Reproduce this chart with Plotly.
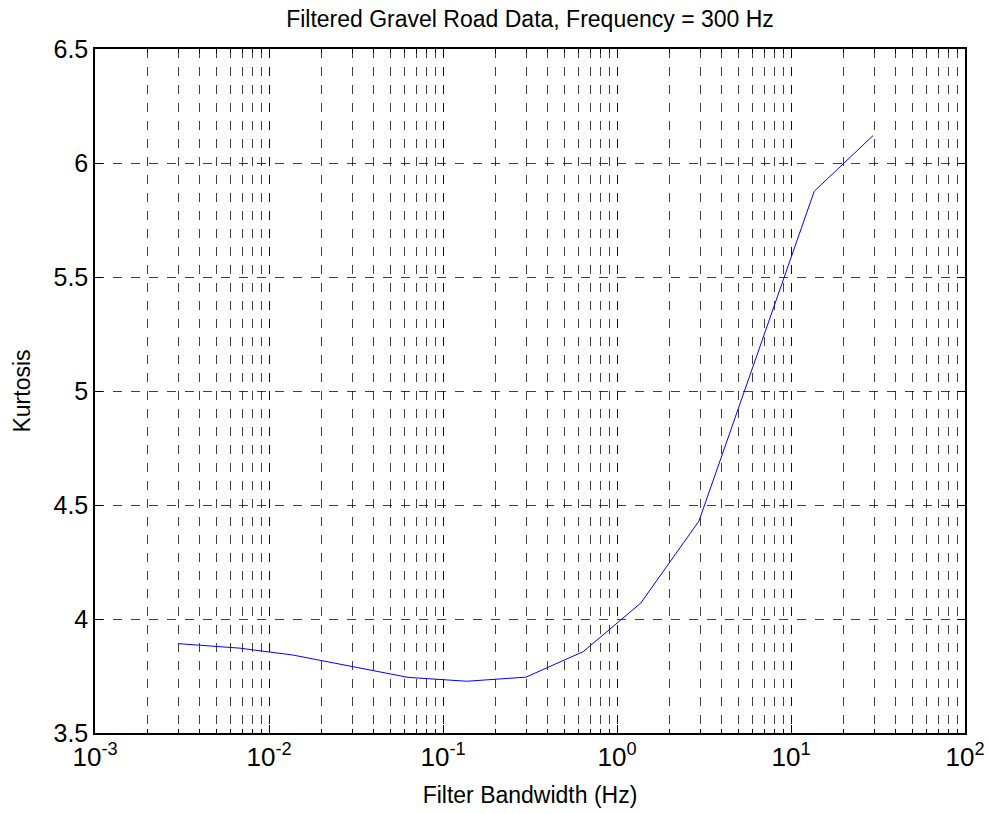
import plotly.graph_objects as go

# Data
bandwidth_hz = [0.003, 0.0068, 0.0137, 0.030, 0.063, 0.137, 0.30, 0.64, 1.37, 2.96, 13.6, 29.6]
kurtosis = [3.892, 3.872, 3.842, 3.790, 3.744, 3.727, 3.745, 3.857, 4.070, 4.430, 5.876, 6.120]

x_tick_vals = [1e-3, 1e-2, 1e-1, 1e0, 1e1, 1e2]
x_tick_text = ["10<sup>-3</sup>", "10<sup>-2</sup>", "10<sup>-1</sup>", "10<sup>0</sup>",
               "10<sup>1</sup>", "10<sup>2</sup>"]
y_tick_vals = [3.5, 4, 4.5, 5, 5.5, 6, 6.5]
y_tick_text = ["3.5", "4", "4.5", "5", "5.5", "6", "6.5"]

FONT = "Liberation Sans, Arial, sans-serif"
GRID = "rgba(0,0,0,0.75)"

fig = go.Figure()
fig.add_trace(go.Scatter(
    x=bandwidth_hz, y=kurtosis, mode="lines",
    line=dict(color="#0000ff", width=1), showlegend=False,
))

fig.update_layout(
    width=988, height=814,
    margin=dict(l=95, r=23, t=49, b=81),
    paper_bgcolor="white", plot_bgcolor="white",
    font=dict(family=FONT, color="black"),
    title=dict(text="Filtered Gravel Road Data, Frequency = 300 Hz",
               x=0.5, xref="paper", xanchor="center",
               y=1 - 19 / 814, yref="container", yanchor="middle",
               font=dict(size=23, family=FONT, color="black")),
)

fig.update_xaxes(
    type="log", range=[-3, 2], automargin=False,
    tickmode="array", tickvals=x_tick_vals, ticktext=x_tick_text,
    tickfont=dict(size=26, family=FONT),
    ticks="inside", ticklen=8, tickcolor="black",
    showline=True, linecolor="black", linewidth=1.5, mirror="ticks",
    showgrid=True, gridcolor=GRID, griddash="dash", gridwidth=1,
    minor=dict(dtick="D1", showgrid=True, gridcolor=GRID, griddash="dash",
               gridwidth=1, ticks="inside", ticklen=4, tickcolor="black"),
    zeroline=False,
    title=dict(text="Filter Bandwidth (Hz)", font=dict(size=23, family=FONT), standoff=16),
)
fig.update_yaxes(
    range=[3.5, 6.5], automargin=False,
    tickmode="array", tickvals=y_tick_vals, ticktext=y_tick_text,
    tickfont=dict(size=25, family=FONT),
    ticks="inside", ticklen=8, tickcolor="black",
    showline=True, linecolor="black", linewidth=1.5, mirror="ticks",
    showgrid=True, gridcolor=GRID, griddash="dash", gridwidth=1,
    zeroline=False,
    title=dict(text="Kurtosis", font=dict(size=23, family=FONT), standoff=16),
)

fig.write_html("out.html")
